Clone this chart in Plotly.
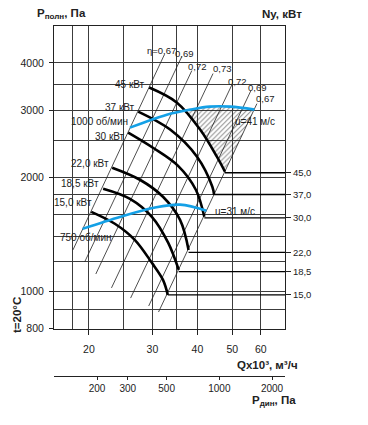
import plotly.graph_objects as go

# ---------------- data (Q in 10^3 m3/h, P in Pa, N in kW) ----------------
# constant power curves (black)
n45_q = [29.4, 35.1, 40.7, 45.3, 47.7]
n45_p = [3444, 3143, 2670, 2265, 2068]
n37_q = [27.4, 33.6, 39.9, 44.0, 44.5]
n37_p = [2977, 2670, 2265, 1888, 1798]
n30_q = [25.7, 30.1, 35.3, 39.6, 41.8]
n30_p = [2621, 2392, 2146, 1854, 1574]
n22_q = [23.2, 27.7, 32.1, 35.8, 37.8]
n22_p = [2119, 1970, 1777, 1545, 1288]
n185_q = [21.9, 26.0, 29.9, 33.2, 35.5]
n185_p = [1866, 1755, 1574, 1344, 1141]
n15_q = [20.3, 23.6, 26.8, 29.9, 32.1, 33.1]
n15_p = [1622, 1509, 1369, 1191, 1074, 981]

power_curves = [
    (n45_q, n45_p), (n37_q, n37_p), (n30_q, n30_p),
    (n22_q, n22_p), (n185_q, n185_p), (n15_q, n15_p),
]
power_values = [45.0, 37.0, 30.0, 22.0, 18.5, 15.0]
power_labels = ["45,0", "37,0", "30,0", "22,0", "18,5", "15,0"]

# fan curves (blue)
rpm1000_q = [26.0, 32.9, 38.2, 43.3, 49.3, 57.6]
rpm1000_p = [2702, 2922, 3013, 3068, 3068, 3013]
rpm750_q = [19.2, 24.5, 30.3, 35.8, 42.4]
rpm750_p = [1463, 1574, 1662, 1694, 1632]

# efficiency lines: (Q_top, P_top, Q_bottom, P_bottom)
eta_names = ["η=0,67", "0,69", "0,72", "0,73", "0,72", "0,69", "0,67"]
eta_q_top = [32.4, 36.2, 38.6, 44.2, 49.9, 56.3, 58.5]
eta_p_top = [4207, 4156, 3817, 3749, 3507, 3381, 3124]
eta_q_bot = [18.06, 19.46, 20.9, 23.1, 26.1, 29.3, 31.2]
eta_p_bot = [1288, 1197, 1113, 1023, 962, 917, 884]

# hatched working zone
hatch_q = [36.7, 38.2, 43.3, 49.3, 57.6, 47.7, 45.3, 40.7, 36.7]
hatch_p = [2994, 3013, 3068, 3068, 3013, 2068, 2265, 2670, 2994]

# axes ticks
q_ticks = [20, 30, 40, 50, 60]
q_grid = [18, 25, 35, 70]
p_ticks = [800, 1000, 2000, 3000, 4000]
p_grid = [900, 1200, 1400, 1600, 1800, 2500, 3500, 5000]
pdyn_ticks = [200, 300, 500, 1000, 2000]

# ---------------- figure ----------------
FONT = "Liberation Sans, Arial, sans-serif"
BLUE = "#14a0e6"
fig = go.Figure()

fig.add_trace(go.Scatter(
    x=hatch_q, y=hatch_p, mode="lines", fill="toself",
    line=dict(width=0, color="rgba(0,0,0,0)"),
    fillcolor="rgba(255,255,255,0)",
    fillpattern=dict(shape="/", size=3.5, solidity=0.3, fgcolor="#222",
                     bgcolor="rgba(255,255,255,0)"),
    hoverinfo="skip", showlegend=False))

for i in range(len(eta_names)):
    fig.add_trace(go.Scatter(
        x=[eta_q_bot[i], eta_q_top[i]], y=[eta_p_bot[i], eta_p_top[i]],
        mode="lines", line=dict(color="#222", width=0.8),
        hoverinfo="skip", showlegend=False))

for (q, p), n in zip(power_curves, power_values):
    fig.add_trace(go.Scatter(
        x=q, y=p, mode="lines", line=dict(color="black", width=2.6, shape="spline", smoothing=1.0),
        hoverinfo="skip", showlegend=False))
    fig.add_trace(go.Scatter(
        x=[q[-1], 70], y=[n, n], yaxis="y2", mode="lines",
        line=dict(color="black", width=1.3),
        hoverinfo="skip", showlegend=False))

for q, p in [(rpm1000_q, rpm1000_p), (rpm750_q, rpm750_p)]:
    fig.add_trace(go.Scatter(
        x=q, y=p, mode="lines", line=dict(color=BLUE, width=2.6, shape="spline", smoothing=1.0),
        hoverinfo="skip", showlegend=False))

# invisible trace so the dynamic-pressure axis is drawn
fig.add_trace(go.Scatter(x=[pdyn_ticks[0], pdyn_ticks[-1]], y=[1000, 1000], xaxis="x2",
                         mode="markers", marker=dict(opacity=0), hoverinfo="skip", showlegend=False))

GRID = "#3c3c3c"
# the page body adds an 8px offset, so margins are reduced by 8px on the left/top
fig.update_layout(
    width=368, height=425,
    margin=dict(l=46, r=91, t=18, b=57),
    paper_bgcolor="white", plot_bgcolor="white",
    font=dict(family=FONT, size=10, color="#222"),
    xaxis=dict(type="log", range=[1.2041, 1.8451], tickvals=q_ticks, ticktext=[str(v) for v in q_ticks],
               showgrid=True, gridcolor=GRID, gridwidth=1,
               minor=dict(tickvals=q_grid, showgrid=True, gridcolor=GRID, gridwidth=1, ticks=""),
               showline=True, linecolor="#222", linewidth=1, mirror=True,
               ticks="outside", ticklen=5, tickcolor="#222", ticklabelstandoff=6,
               tickfont=dict(size=10.5), zeroline=False, anchor="y"),
    yaxis=dict(type="log", range=[2.9031, 3.6990], domain=[0.1357, 1],
               tickvals=p_ticks, ticktext=[str(v) for v in p_ticks],
               showgrid=True, gridcolor=GRID, gridwidth=1,
               minor=dict(tickvals=p_grid, showgrid=True, gridcolor=GRID, gridwidth=1, ticks=""),
               showline=True, linecolor="#222", linewidth=1, mirror=True,
               ticks="outside", ticklen=4, tickcolor="#222", ticklabelstandoff=3,
               tickfont=dict(size=10.5), zeroline=False, anchor="x"),
    yaxis2=dict(type="log", range=[1.0451, 2.2261], overlaying="y", side="right", anchor="x",
                tickvals=power_values, ticktext=power_labels, showgrid=False, showline=False,
                ticks="outside", ticklen=5, tickcolor="#222", tickfont=dict(size=9.5),
                zeroline=False),
    xaxis2=dict(type="log", range=[2.0553, 3.3753], overlaying="x", anchor="free", position=0,
                side="bottom", tickvals=pdyn_ticks, ticktext=[str(v) for v in pdyn_ticks],
                showgrid=False, showline=True, linecolor="#222", linewidth=1,
                ticks="outside", ticklen=3, tickcolor="#222", tickfont=dict(size=10),
                zeroline=False),
)

def ann(text, x, y, size=10, bold=False, angle=0):
    fig.add_annotation(text=("<b>%s</b>" % text) if bold else text, x=x, y=y,
                       xref="paper", yref="paper", showarrow=False,
                       font=dict(size=size, family=FONT, color="#222"), textangle=angle,
                       xanchor="center", yanchor="middle")

def px(x):
    return (x - 54) / 231.0

def py(y):
    return (376 - y) / 350.0

ann("P<sub>полн</sub>, Па", px(61), py(14), 11.5, True)
ann("Ny, кВт", px(282), py(14), 11.5, True)
ann("Qx10³, м³/ч", px(267), py(365), 11.5, True)
ann("P<sub>дин</sub>, Па", px(274), py(401), 11.5, True)
ann("t=20°C", px(17), py(315), 11.5, True, -90)

curve_labels = [("45 кВт", 130, 84), ("37 кВт", 120, 107), ("1000 об/мин", 99, 122),
                ("30 кВт", 110, 136), ("22,0 кВт", 90, 164), ("18,5 кВт", 80, 183),
                ("15,0 кВт", 73, 202), ("750 об/мин", 86, 238),
                ("u=41 м/с", 255, 122), ("u=31 м/с", 235, 211)]
for t, x, y in curve_labels:
    ann(t, px(x), py(y), 10)

eta_pos = [(161, 51), (184, 53), (197, 67), (222, 68), (237, 81), (257, 87), (265, 99)]
for t, (x, y) in zip(eta_names, eta_pos):
    ann(t, px(x), py(y), 9.5)

fig.write_html("out.html")
